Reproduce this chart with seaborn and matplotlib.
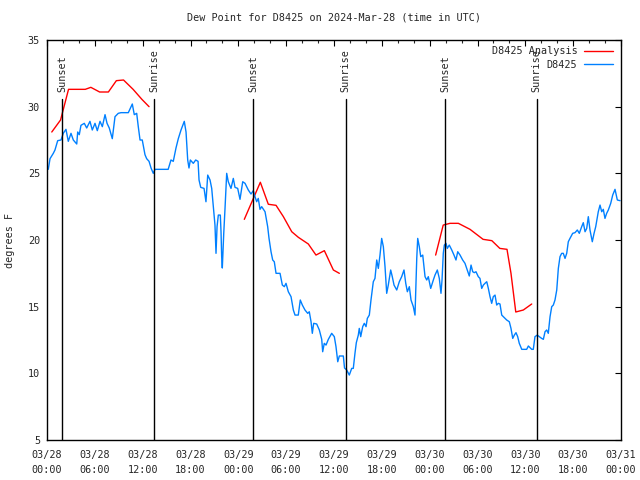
"""
Dew point for station D8425, 2024-03-28 .. 2024-03-31 (UTC), observed vs analysis,
with sunrise / sunset markers.
"""

import numpy as np
import pandas as pd
import seaborn as sns
import matplotlib.pyplot as plt
import matplotlib.dates as mdates
from matplotlib.lines import Line2D

# ---- data (hours after 2024-03-28 00:00 UTC, degrees F) ----
start = pd.Timestamp('2024-03-28 00:00')

obs_hours = [0.16, 0.38, 0.79, 1.0, 1.34, 1.76, 2.04, 2.38, 2.67, 3.01, 3.3, 3.73, 3.85, 4.05, 4.26,
             4.68, 4.98, 5.39, 5.68, 6.02, 6.31, 6.65, 6.94, 7.28, 7.53, 7.81, 8.19, 8.53, 8.94, 9.28,
             10.2, 10.7, 10.95, 11.25, 11.45, 11.67, 11.95, 12.29, 12.5, 12.8, 13.05, 13.33, 13.55,
             15.2, 15.55, 15.84, 16.18, 16.47, 16.81, 17.22, 17.44, 17.65, 17.81, 17.98, 18.35, 18.65,
             18.95, 19.07, 19.28, 19.7, 19.94, 20.16, 20.45, 20.66, 20.86, 21.07, 21.2, 21.33, 21.49,
             21.74, 21.83, 21.91, 21.99, 22.17, 22.33, 22.54, 22.74, 23.08, 23.37, 23.58, 23.92, 24.21,
             24.55, 24.84, 25.25, 25.59, 25.88, 26.09, 26.3, 26.5, 26.72, 26.93, 27.35, 27.68, 27.85,
             28.1, 28.31, 28.51, 28.73, 29.23, 29.52, 29.77, 29.98, 30.27, 30.61, 30.9, 31.11, 31.52,
             31.77, 32.03, 32.36, 32.7, 32.9, 33.12, 33.28, 33.45, 33.83, 34.16, 34.46, 34.58, 34.78,
             35.0, 35.29, 35.71, 36.04, 36.25, 36.47, 36.67, 36.97, 37.17, 37.32, 37.59, 37.92, 38.22,
             38.42, 38.63, 38.8, 39.05, 39.17, 39.35, 39.6, 39.8, 40.02, 40.18, 40.43, 40.64, 40.93,
             41.14, 41.36, 41.56, 41.77, 41.98, 42.19, 42.4, 42.61, 42.81, 43.11, 43.31, 43.53, 43.87,
             44.19, 44.49, 44.78, 45.0, 45.2, 45.45, 45.66, 45.95, 46.16, 46.38, 46.5, 46.7, 46.88,
             47.13, 47.42, 47.63, 47.83, 48.13, 48.46, 48.67, 48.96, 49.21, 49.42, 49.55, 49.71, 49.84,
             50.05, 50.21, 50.46, 50.77, 51.05, 51.3, 51.52, 51.81, 52.14, 52.43, 52.72, 52.97, 53.19,
             53.4, 53.6, 53.81, 54.1, 54.31, 54.53, 54.73, 54.94, 55.16, 55.36, 55.57, 55.78, 55.98,
             56.2, 56.41, 56.61, 56.82, 57.04, 57.24, 57.66, 57.99, 58.2, 58.42, 58.62, 58.83, 59.04,
             59.24, 59.55, 60.17, 60.38, 60.59, 60.8, 61.0, 61.21, 61.5, 61.75, 62.05, 62.26, 62.47,
             62.68, 62.88, 63.1, 63.31, 63.51, 63.72, 63.94, 64.14, 64.35, 64.56, 64.76, 64.98, 65.19,
             65.39, 65.6, 65.94, 66.23, 66.52, 66.77, 67.07, 67.27, 67.49, 67.7, 67.9, 68.11, 68.4,
             68.62, 68.83, 69.15, 69.37, 69.58, 69.78, 69.99, 70.2, 70.41, 70.71, 70.96, 71.25, 71.54,
             71.88]
obs_dewpt = [25.3, 26.1, 26.5, 26.75, 27.45, 27.5, 28.0, 28.3, 27.4, 28.0, 27.5, 27.2, 28.1, 27.9, 28.6,
             28.75, 28.4, 28.9, 28.25, 28.75, 28.2, 28.9, 28.5, 29.4, 28.75, 28.4, 27.6, 29.25, 29.5, 29.55,
             29.55, 30.2, 29.4, 29.5, 28.5, 27.5, 27.5, 26.4, 26.1, 25.9, 25.4, 25.0, 25.3,
             25.3, 26.0, 25.9, 26.9, 27.6, 28.25, 28.9, 28.1, 26.0, 25.4, 26.0, 25.75, 26.0,
             25.9, 24.5, 23.95, 23.87, 22.87, 24.87, 24.5, 23.87, 22.5, 21.12, 19.0, 21.0, 21.87,
             21.87, 20.6, 18.75, 17.9, 20.5, 22.37, 25.0, 24.37, 23.87, 24.62, 23.95, 23.87, 23.05,
             24.37, 24.25, 23.75, 23.45, 23.7, 23.25, 22.87, 23.12, 22.3, 22.5, 22.12, 21.0, 20.12,
             19.12, 18.5, 18.37, 17.5, 17.5, 16.62, 16.5, 16.75, 16.12, 15.75, 14.75, 14.37, 14.37,
             15.5, 15.12, 14.75, 14.5, 14.62, 13.87, 13.0, 13.75, 13.7, 13.25, 12.55, 11.62, 12.25,
             12.12, 12.55, 13.0, 12.75, 12.0, 10.87, 11.3, 11.3, 11.3, 10.4, 10.25, 9.87, 10.37,
             10.37, 11.5, 12.3, 12.87, 13.37, 12.75, 13.5, 13.75, 13.5, 14.12, 14.37, 15.5, 16.87,
             17.12, 18.5, 17.87, 18.87, 20.12, 19.5, 18.0, 16.0, 16.62, 17.75, 17.25, 16.62, 16.25,
             16.87, 17.25, 17.75, 16.75, 16.12, 16.5, 15.5, 15.0, 14.37, 18.62, 20.12, 19.5, 18.75,
             18.87, 17.25, 17.0, 17.25, 16.37, 17.0, 17.37, 17.75, 17.12, 16.0, 17.0, 19.0, 19.62,
             19.75, 19.37, 19.62, 19.25, 18.87, 18.5, 19.12, 18.87, 18.5, 18.25, 17.75, 17.3, 18.12,
             17.62, 17.55, 17.62, 17.25, 17.12, 16.37, 16.62, 16.75, 16.87, 16.37, 15.75, 15.25, 15.75,
             15.87, 15.12, 15.25, 15.2, 14.37, 14.25, 14.0, 13.87, 13.37, 12.62, 12.87, 13.05, 12.75,
             12.25, 11.8, 11.8, 12.05, 11.92, 11.8, 11.8, 12.75, 12.87, 12.75, 12.62, 12.55, 13.12,
             13.25, 13.0, 14.25, 15.0, 15.12, 15.5, 16.25, 17.87, 18.75, 19.0, 19.0, 18.62, 19.0,
             19.87, 20.12, 20.5, 20.55, 20.75, 20.5, 21.0, 21.3, 20.62, 20.87, 21.75, 20.75, 19.87,
             20.5, 21.0, 22.12, 22.62, 22.12, 22.3, 21.62, 22.0, 22.25, 22.75, 23.37, 23.8, 23.0,
             22.95]

# analysis comes in three separate runs
ana_hours_1 = [0.6, 1.7, 2.7, 3.7, 4.8, 5.5, 6.6, 7.7, 8.7, 9.6, 10.8, 11.9, 12.8]
ana_dewpt_1 = [28.1, 29.0, 31.3, 31.3, 31.3, 31.45, 31.1, 31.1, 31.95, 32.0, 31.3, 30.55, 30.0]
ana_hours_2 = [24.75, 26.76, 27.76, 28.73, 29.65, 30.7, 31.53, 32.78, 33.74, 34.79, 35.92, 36.67]
ana_dewpt_2 = [21.55, 24.33, 22.68, 22.6, 21.75, 20.62, 20.2, 19.7, 18.87, 19.2, 17.75, 17.5]
ana_hours_3 = [48.75, 49.7, 50.55, 51.6, 53.06, 54.7, 55.8, 56.8, 57.7, 58.2, 58.8, 59.75, 60.8]
ana_dewpt_3 = [18.87, 21.12, 21.25, 21.25, 20.8, 20.05, 19.95, 19.37, 19.3, 17.5, 14.6, 14.75, 15.2]

sun_events = ['Sunset', 'Sunrise', 'Sunset', 'Sunrise', 'Sunset', 'Sunrise']
sun_times = ['2024-03-28 01:53', '2024-03-28 13:28', '2024-03-29 01:53',
             '2024-03-29 13:27', '2024-03-30 01:56', '2024-03-30 13:26']

# ---- build frames ----
df_obs = pd.DataFrame({'time': start + pd.to_timedelta(obs_hours, unit='h'), 'dewpt': obs_dewpt})
ana_parts = []
for i, (hh, vv) in enumerate([(ana_hours_1, ana_dewpt_1), (ana_hours_2, ana_dewpt_2),
                              (ana_hours_3, ana_dewpt_3)]):
    ana_parts.append(pd.DataFrame({'time': start + pd.to_timedelta(hh, unit='h'),
                                   'dewpt': vv, 'seg': i}))
df_ana = pd.concat(ana_parts, ignore_index=True)

# ---- style ----
sns.set_style('white')
plt.rcParams['font.family'] = ['DejaVu Sans Mono']
fs = 7.3
red, blue = '#ff0000', '#0080ff'

fig = plt.figure(figsize=(6.4, 4.8), dpi=100)
ax = fig.add_axes([47/640, 40/480, 574/640, 400/480])

sns.lineplot(data=df_ana, x='time', y='dewpt', units='seg', estimator=None,
             color=red, lw=1.0, ax=ax, legend=False)
sns.lineplot(data=df_obs, x='time', y='dewpt', estimator=None,
             color=blue, lw=1.0, ax=ax, legend=False)

# sunrise / sunset markers
for name, t in zip(sun_events, sun_times):
    t = pd.Timestamp(t)
    ax.axvline(t, ymin=0, ymax=0.8525, color='black', lw=1.0, zorder=3)
    ax.text(mdates.date2num(t), 0.87, name, transform=ax.get_xaxis_transform(),
            rotation=90, ha='center', va='bottom', fontsize=fs, zorder=3)

# axes
ax.set_xlim(start, start + pd.Timedelta(hours=72))
ax.set_ylim(5, 35)
ax.set_yticks(np.arange(5, 36, 5))
ax.xaxis.set_major_locator(mdates.HourLocator(byhour=[0, 6, 12, 18]))
ax.xaxis.set_minor_locator(mdates.HourLocator(byhour=range(0, 24, 2)))
ax.xaxis.set_major_formatter(mdates.DateFormatter('%m/%d\n%H:%M'))
ax.tick_params(axis='both', which='major', direction='in', length=4, width=0.8,
               top=True, right=True, labelsize=fs, color='black')
ax.tick_params(axis='x', which='major', pad=7)
ax.tick_params(axis='y', which='major', pad=5)
ax.tick_params(axis='x', which='minor', direction='in', length=2.2, width=0.8, top=True)
plt.setp(ax.get_xticklabels(), linespacing=1.6)
for s in ax.spines.values():
    s.set_color('black')
    s.set_linewidth(1.0)

ax.set_xlabel('')
ax.set_ylabel('degrees F', fontsize=fs, labelpad=9)
ax.set_title('Dew Point for D8425 on 2024-Mar-28 (time in UTC)', fontsize=fs, pad=14)

handles = [Line2D([], [], color=red, lw=1.0), Line2D([], [], color=blue, lw=1.0)]
ax.legend(handles, ['D8425 Analysis', 'D8425'], loc='upper right', frameon=False,
          markerfirst=False, fontsize=fs, handlelength=2.8, handletextpad=0.7,
          labelspacing=0.32, borderaxespad=0.3, borderpad=0.4,
          bbox_to_anchor=(0.998, 1.002))

plt.savefig('out.png', dpi=100)
plt.close()
